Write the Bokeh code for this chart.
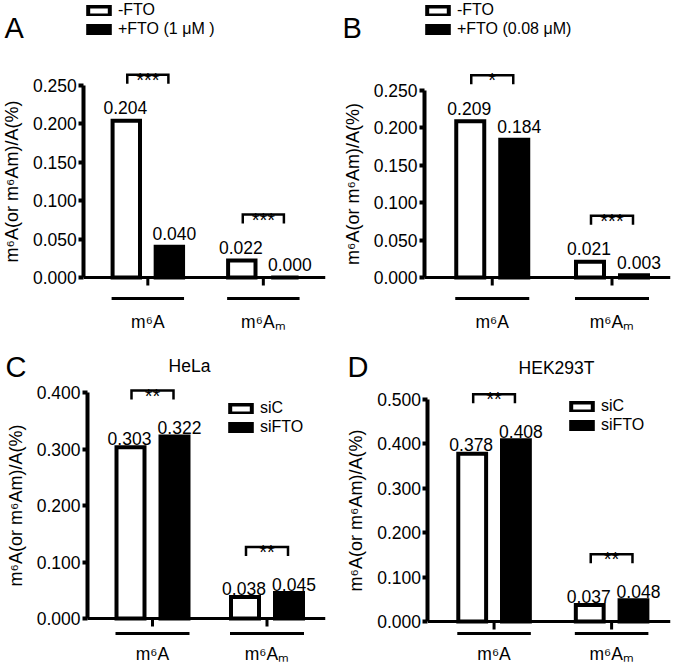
from bokeh.plotting import figure
from bokeh.layouts import gridplot
from bokeh.models import (Range1d, FixedTicker, PrintfTickFormatter, Legend,
                          LegendItem, Label, ColumnDataSource)
from bokeh.core.properties import value
from bokeh.embed import file_html
from bokeh.resources import INLINE

FONT = "Liberation Sans"

# ---------------- data ----------------
categories = ["m\u2076A", "m\u2076A\u2098"]
y_label = "m\u2076A(or m\u2076Am)/A(%)"

a_letter = "A"
a_title = ""
a_series = ["-FTO", "+FTO (1 \u03bcM )"]
a_ctrl = [0.204, 0.022]
a_treat = [0.040, 0.000]
a_sig = ["***", "***"]
a_ticks = [0.000, 0.050, 0.100, 0.150, 0.200, 0.250]

b_letter = "B"
b_title = ""
b_series = ["-FTO", "+FTO (0.08 \u03bcM)"]
b_ctrl = [0.209, 0.021]
b_treat = [0.184, 0.003]
b_sig = ["*", "***"]
b_ticks = [0.000, 0.050, 0.100, 0.150, 0.200, 0.250]

c_letter = "C"
c_title = "HeLa"
c_series = ["siC", "siFTO"]
c_ctrl = [0.303, 0.038]
c_treat = [0.322, 0.045]
c_sig = ["**", "**"]
c_ticks = [0.000, 0.100, 0.200, 0.300, 0.400]

d_letter = "D"
d_title = "HEK293T"
d_series = ["siC", "siFTO"]
d_ctrl = [0.378, 0.037]
d_treat = [0.408, 0.048]
d_sig = ["**", "**"]
d_ticks = [0.000, 0.100, 0.200, 0.300, 0.400, 0.500]

# ---------------- layout (pixels, panel-local) ----------------
LAYOUT = {
    "A": dict(col_w=338, row_h=332, axis_x=85, right_x=332, g1=150.5, g2=268.5,
              zero_y=277, top_y=85, letter=(4, 27), title=(0, 0),
              legend=(85, 38), underline=21, catlabel=44, gap=13),
    "B": dict(col_w=338, row_h=332, axis_x=86, right_x=332, g1=153.75, g2=273.5,
              zero_y=277, top_y=90, letter=(4, 27), title=(0, 0),
              legend=(86, 38), underline=21, catlabel=44, gap=13),
    "C": dict(col_w=338, row_h=330, axis_x=87, right_x=325, g1=152, g2=266.5,
              zero_y=286, top_y=60, letter=(5, 34), title=(189, 33),
              legend=(227, 104), underline=15, catlabel=35, gap=9),
    "D": dict(col_w=338, row_h=330, axis_x=90, right_x=334, g1=156.5, g2=274.75,
              zero_y=289, top_y=67, letter=(9, 34), title=(218, 35),
              legend=(230, 102), underline=12, catlabel=32, gap=9),
}

BAR_OFF_PX = 22.0
BAR_W_PX = 28.0
BRACKET_GAP_PX = 46
BRACKET_HW_PX = 21
BRACKET_LEG_PX = 9
UNDERLINE_HW_PX = 37
TICK_PX = 8
LW = 4


def panel(key, letter, title, series, ctrl, treat, sig, ticks):
    L = LAYOUT[key]
    top_v = ticks[-1]
    ppu = (L["zero_y"] - L["top_y"]) / top_v
    sp = L["g2"] - L["g1"]
    W = L["col_w"]
    H = L["row_h"]
    right = L["col_w"] - L["right_x"]

    x_start = 1 - L["g1"] / sp
    x_end = 2 + (L["right_x"] - L["g2"]) / sp
    axis_loc = 1 - (L["g1"] - L["axis_x"]) / sp
    x_range = Range1d(x_start, x_end)
    y_range = Range1d(-(L["row_h"] - L["zero_y"]) / ppu, L["zero_y"] / ppu)

    p = figure(width=W, height=H, x_range=x_range, y_range=y_range,
               output_backend="svg", toolbar_location=None, title=None,
               x_axis_location=None, min_border_left=0, min_border_right=right,
               min_border_top=0, min_border_bottom=0)
    p.grid.visible = False
    p.outline_line_color = None
    p.background_fill_color = "white"
    p.border_fill_color = "white"

    ax = p.yaxis[0]
    ax.fixed_location = axis_loc
    ax.ticker = FixedTicker(ticks=ticks, minor_ticks=[])
    ax.formatter = PrintfTickFormatter(format="%.3f")
    ax.bounds = (0, top_v)
    ax.axis_line_width = LW
    ax.axis_line_color = "black"
    ax.major_tick_line_width = LW
    ax.major_tick_line_color = "black"
    ax.major_tick_out = 5
    ax.major_tick_in = 0
    ax.minor_tick_line_color = None
    ax.major_label_standoff = 2
    ax.major_label_text_font = FONT
    ax.major_label_text_font_size = "17.5px"
    ax.major_label_text_color = "black"
    ax.axis_label = y_label
    ax.axis_label_text_font = FONT
    ax.axis_label_text_font_size = "18px"
    ax.axis_label_text_font_style = "normal"
    ax.axis_label_text_color = "black"
    ax.axis_label_standoff = 8

    n = len(categories)
    idx = [i + 1 for i in range(n)]
    off = BAR_OFF_PX / sp
    bw = BAR_W_PX / sp

    src_c = ColumnDataSource(dict(x=[i - off for i in idx], top=ctrl,
                                  lab=["%.3f" % v for v in ctrl]))
    src_t = ColumnDataSource(dict(x=[i + off for i in idx], top=treat,
                                  lab=["%.3f" % v for v in treat]))
    r_c = p.vbar(x="x", top="top", bottom=0, width=bw, source=src_c,
                 fill_color="white", line_color="black", line_width=LW, line_join="miter")
    r_t = p.vbar(x="x", top="top", bottom=0, width=bw, source=src_t,
                 fill_color="black", line_color="black", line_width=LW, line_join="miter")

    for src, xo in ((src_c, -1), (src_t, 5)):
        p.text(x="x", y="top", text="lab", source=src, text_align="center",
               text_baseline="alphabetic", y_offset=-L["gap"], x_offset=xo,
               text_font=value(FONT), text_font_size="17.5px", text_color="black")

    # x axis line from the y axis to the right end
    p.segment(x0=[axis_loc], y0=[0], x1=[x_end], y1=[0], line_color="black", line_width=3)
    # ticks at group centres
    p.segment(x0=idx, y0=[0] * n, x1=idx, y1=[-TICK_PX / ppu] * n,
              line_color="black", line_width=3)
    # category underline + labels
    uy = -L["underline"] / ppu
    p.segment(x0=[i - UNDERLINE_HW_PX / sp for i in idx], y0=[uy] * n,
              x1=[i + UNDERLINE_HW_PX / sp for i in idx], y1=[uy] * n,
              line_color="black", line_width=3)
    p.text(x=idx, y=[-L["catlabel"] / ppu] * n, text=categories, text_align="center",
           text_baseline="alphabetic", text_font=value(FONT), text_font_size="17.5px",
           text_color="black")

    # significance brackets
    xs, ys, sx, sy = [], [], [], []
    hw = BRACKET_HW_PX / sp
    leg = BRACKET_LEG_PX / ppu
    for i, a, b in zip(idx, ctrl, treat):
        by = max(a, b) + BRACKET_GAP_PX / ppu
        xs.append([i - hw, i - hw, i + hw, i + hw])
        ys.append([by - leg, by, by, by - leg])
        sx.append(i)
        sy.append(by)
    p.multi_line(xs=xs, ys=ys, line_color="black", line_width=2.5, line_join="miter")
    p.text(x=sx, y=sy, text=sig, text_align="center", text_baseline="alphabetic",
           y_offset=5, text_font=value(FONT), text_font_size="20px", text_color="black")

    # legend
    lx, lb = L["legend"]
    legend = Legend(items=[LegendItem(label=series[0], renderers=[r_c]),
                           LegendItem(label=series[1], renderers=[r_t])],
                    location=(lx, L["row_h"] - lb),
                    padding=0, margin=0, spacing=1, border_line_color=None,
                    background_fill_alpha=0, glyph_width=27, glyph_height=11,
                    label_standoff=6, label_height=16,
                    label_text_font=FONT, label_text_font_size="16px",
                    label_text_color="black")
    p.add_layout(legend)

    # panel letter & title
    px_, py_ = L["letter"]
    p.add_layout(Label(x=px_, y=L["row_h"] - py_, x_units="screen",
                       y_units="screen", text=letter, text_font=FONT,
                       text_font_size="29px", text_color="black",
                       text_baseline="alphabetic", text_align="left"))
    if title:
        tx, ty = L["title"]
        p.add_layout(Label(x=tx, y=L["row_h"] - ty, x_units="screen",
                           y_units="screen", text=title, text_font=FONT,
                           text_font_size="17.5px", text_color="black",
                           text_baseline="alphabetic", text_align="center"))
    return p


pa = panel("A", a_letter, a_title, a_series, a_ctrl, a_treat, a_sig, a_ticks)
pb = panel("B", b_letter, b_title, b_series, b_ctrl, b_treat, b_sig, b_ticks)
pc = panel("C", c_letter, c_title, c_series, c_ctrl, c_treat, c_sig, c_ticks)
pd = panel("D", d_letter, d_title, d_series, d_ctrl, d_treat, d_sig, d_ticks)

grid = gridplot([[pa, pb], [pc, pd]], toolbar_location=None)

with open("out.html", "w") as f:
    f.write(file_html(grid, INLINE))
